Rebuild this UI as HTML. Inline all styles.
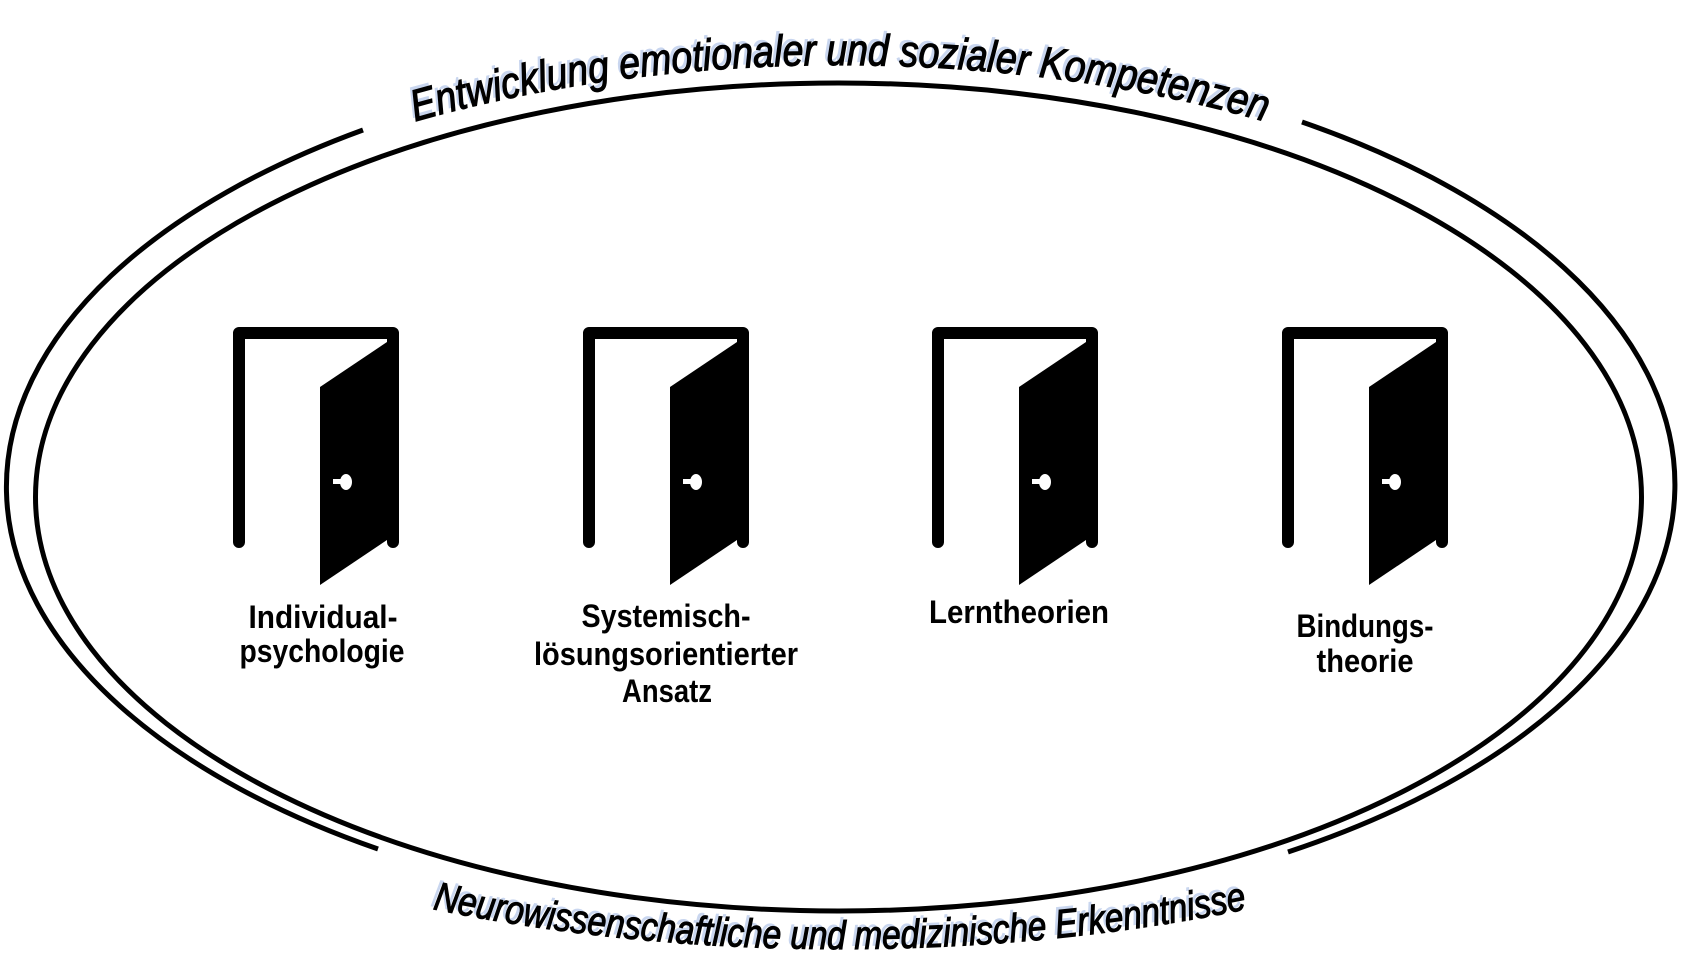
<!DOCTYPE html>
<html><head><meta charset="utf-8"><style>html,body{margin:0;padding:0;background:#fff}svg{display:block}</style></head>
<body>
<svg width="1682" height="979" viewBox="0 0 1682 979" xmlns="http://www.w3.org/2000/svg">
<defs>
<path id="tp" d="M -20 497 A 860 432 0 0 1 1700 497"/>
<path id="bp" d="M -150 497 A 990 452 0 0 0 1830 497"/>
<g id="door">
<path d="M6 215 V6 H160 V215" fill="none" stroke="#000" stroke-width="12" stroke-linecap="round" stroke-linejoin="round"/>
<polygon points="87,60 154,15 154,213 87,258" fill="#000"/>
<ellipse cx="113" cy="155" rx="6" ry="8" fill="#fff"/>
<rect x="100" y="152" width="12" height="5" fill="#fff"/>
</g>
</defs>
<ellipse cx="838.5" cy="497" rx="803" ry="414" fill="none" stroke="#000" stroke-width="5"/>
<path d="M363 130 A 833 435 0 0 0 378 849" fill="none" stroke="#000" stroke-width="5"/>
<path d="M1302 122 A 833 435 0 0 1 1288 852" fill="none" stroke="#000" stroke-width="5"/>
<g font-family="Liberation Sans, sans-serif" font-style="italic">
<text font-size="44" fill="#c9d6ef" transform="translate(-3,-3)"><textPath href="#tp" startOffset="50%" text-anchor="middle" textLength="860" lengthAdjust="spacingAndGlyphs">Entwicklung emotionaler und sozialer Kompetenzen</textPath></text>
<text font-size="44" fill="#000" stroke="#000" stroke-width="1.2"><textPath href="#tp" startOffset="50%" text-anchor="middle" textLength="860" lengthAdjust="spacingAndGlyphs">Entwicklung emotionaler und sozialer Kompetenzen</textPath></text>
<text font-size="40" fill="#c9d6ef" transform="translate(-3,-3)"><textPath href="#bp" startOffset="50%" text-anchor="middle" textLength="820" lengthAdjust="spacingAndGlyphs">Neurowissenschaftliche und medizinische Erkenntnisse</textPath></text>
<text font-size="40" fill="#000" stroke="#000" stroke-width="1.2"><textPath href="#bp" startOffset="50%" text-anchor="middle" textLength="820" lengthAdjust="spacingAndGlyphs">Neurowissenschaftliche und medizinische Erkenntnisse</textPath></text>
</g>
<use href="#door" x="233" y="327"/>
<use href="#door" x="583" y="327"/>
<use href="#door" x="932" y="327"/>
<use href="#door" x="1282" y="327"/>
<g font-family="Liberation Sans, sans-serif" font-weight="bold" font-size="32" fill="#000" text-anchor="middle">
<text x="323" y="628" textLength="149" lengthAdjust="spacingAndGlyphs">Individual-</text>
<text x="322" y="662" textLength="165" lengthAdjust="spacingAndGlyphs">psychologie</text>
<text x="666" y="627" textLength="169" lengthAdjust="spacingAndGlyphs">Systemisch-</text>
<text x="666" y="665" textLength="264" lengthAdjust="spacingAndGlyphs">lösungsorientierter</text>
<text x="667" y="702" textLength="90" lengthAdjust="spacingAndGlyphs">Ansatz</text>
<text x="1019" y="623" textLength="180" lengthAdjust="spacingAndGlyphs">Lerntheorien</text>
<text x="1365" y="637" textLength="137" lengthAdjust="spacingAndGlyphs">Bindungs-</text>
<text x="1365" y="672" textLength="97" lengthAdjust="spacingAndGlyphs">theorie</text>
</g>
</svg>
</body></html>
